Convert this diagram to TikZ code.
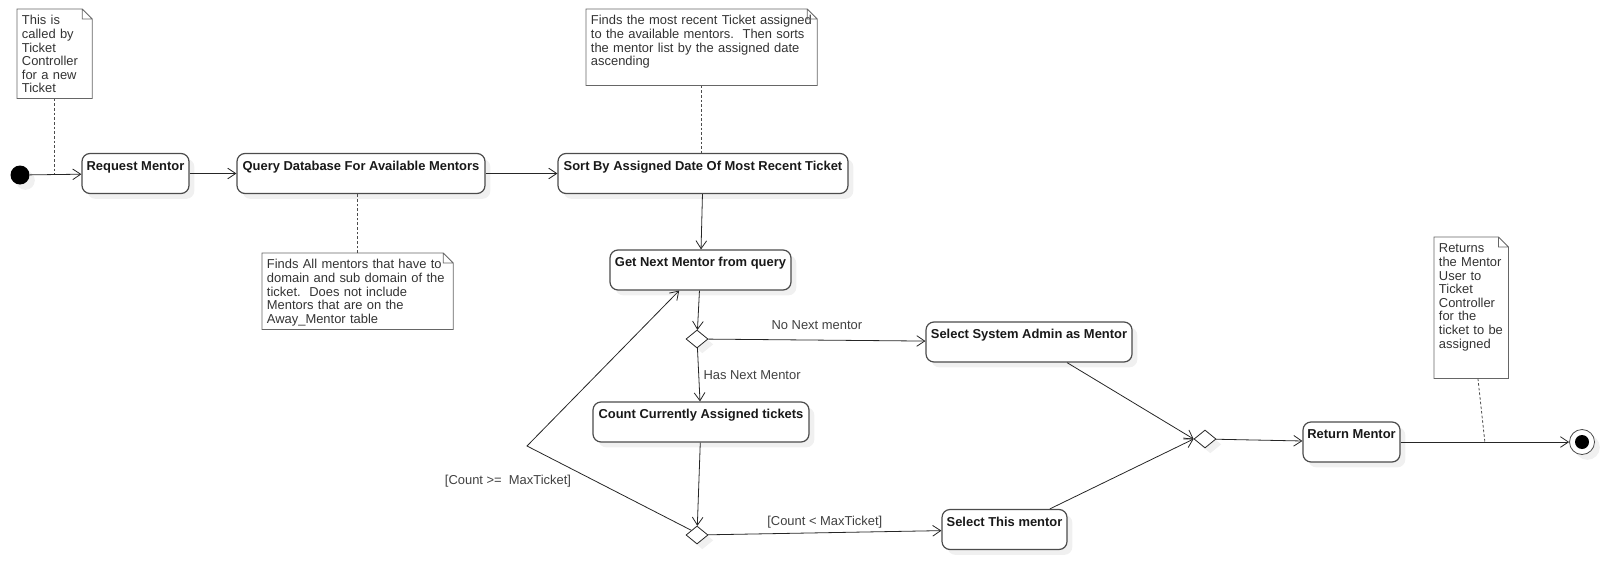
\documentclass[tikz,border=0pt]{standalone}
\usepackage{fontspec}
\setmainfont{Liberation Sans}
\usetikzlibrary{arrows.meta,shapes.geometric,shadows,calc}

\begin{document}
\begin{tikzpicture}[x=0.75pt, y=-0.75pt,
  >={Straight Barb[length=6pt,width=8pt]},
  font=\fontsize{9.7}{10.2}\selectfont,
  shade/.style={drop shadow={shadow xshift=4pt, shadow yshift=-4pt, opacity=1, fill=black!6}},
  action/.style={draw=black!70, line width=0.9pt, rounded corners=6pt, fill=white, shade,
    font=\fontsize{9.7}{10.2}\selectfont\bfseries, text=black!90,
    inner xsep=3pt, inner ysep=3pt, text height=9.5pt, text depth=14.5pt},
  decision/.style={diamond, draw=black!85, line width=0.6pt, fill=white, shade,
    inner sep=0pt, minimum width=16.5pt, minimum height=13.5pt},
  startdot/.style={circle, fill=black, inner sep=0pt, minimum size=14.25pt, shade},
  enddot/.style={circle, draw=black!70, line width=0.6pt, fill=white, inner sep=0pt,
    minimum size=18.75pt, shade,
    path picture={\fill[black] (path picture bounding box.center) circle (5.25pt);}},
  note/.style={anchor=north west, align=left, inner xsep=3.5pt, inner ysep=3.75pt,
    text height=8pt, text=black!80},
  notebd/.style={draw=black!60, line width=0.6pt},
  noteline/.style={draw=black!70, line width=0.6pt, dash pattern=on 2pt off 1.5pt},
  flow/.style={->, draw=black!85, line width=0.6pt},
  guard/.style={text=black!75}]

\useasboundingbox (0,0) rectangle (1605,560);

% notes
\node[note, text width=49pt, text depth=51.25pt] (n1) at (17,9)
  {This is\\called by\\Ticket\\Controller\\for a new\\Ticket};
\node[note, text width=136pt, text depth=41.5pt] (n2) at (262,253)
  {Finds All mentors that have to\\domain and sub domain of the\\ticket.\ \ Does not include\\Mentors that are on the\\Away\_Mentor table};
\node[note, text width=166pt, text depth=41.5pt] (n3) at (586,9)
  {Finds the most recent Ticket assigned\\to the available mentors.\ \ Then sorts\\the mentor list by the assigned date\\ascending};
\node[note, text width=48.5pt, text depth=90.25pt] (n4) at (1434,237)
  {Returns\\the Mentor\\User to\\Ticket\\Controller\\for the\\ticket to be\\assigned};
\foreach \n in {n1,n2,n3,n4}
  \draw[notebd] (\n.north west) -- ([xshift=-7.5pt]\n.north east)
    -- ([yshift=-7.5pt]\n.north east) -- (\n.south east) -- (\n.south west) -- cycle
    ([xshift=-7.5pt]\n.north east) |- ([yshift=-7.5pt]\n.north east);

% actions
\node[startdot] (init) at (20,175) {};
\node[action, minimum width=80.25pt] (req) at (135.5,173.5) {Request Mentor};
\node[action, minimum width=186pt] (query) at (361,173.5) {Query Database For Available Mentors};
\node[action, minimum width=217.5pt] (sort) at (703,173.5) {Sort By Assigned Date Of Most Recent Ticket};
\node[action, minimum width=135.75pt] (getnext) at (700.5,270) {Get Next Mentor from query};
\node[decision] (dec1) at (697,339) {};
\node[action, minimum width=162pt] (count) at (701,422) {Count Currently Assigned tickets};
\node[decision] (dec2) at (697,535) {};
\node[action, minimum width=154.5pt] (sysadmin) at (1029,342) {Select System Admin as Mentor};
\node[action, minimum width=93.75pt] (thismentor) at (1004.5,529.5) {Select This mentor};
\node[decision] (merge) at (1205,439) {};
\node[action, minimum width=72.75pt] (ret) at (1351.5,442) {Return Mentor};
\node[enddot] (final) at (1582,442) {};
\coordinate (loopcorner) at (527,446);

% flows
\draw[flow] (init) -- (req);
\draw[flow] (req) -- (query);
\draw[flow] (query) -- (sort);
\draw[flow] (sort) -- (getnext);
\draw[flow] (getnext) -- (dec1);
\draw[flow] (dec1) -- node[guard, above=4pt] (lblno) {No Next mentor} (sysadmin);
\draw[flow] (dec1) -- node[guard, right] (lblhas) {Has Next Mentor} (count);
\draw[flow] (count) -- (dec2);
\draw[flow] (dec2.north west) -- (loopcorner) -- ([xshift=-16pt]getnext.south);
\node[guard] (lblge) at (508,481) {[Count >=\ \ MaxTicket]};
\draw[flow] (dec2) -- node[guard, above] (lblless) {[Count < MaxTicket]} (thismentor);
\draw[flow] ([xshift=28.5pt]sysadmin.south) -- (merge.west);
\draw[flow] ([xshift=34pt]thismentor.north) -- (merge.west);
\draw[flow] (merge) -- (ret);
\draw[flow] (ret) -- (final);

% note links
\draw[noteline] (n1.south) -- (n1.south |- req.west);
\draw[noteline] (n2.north) -- (n2.north |- query.south);
\draw[noteline] (n3.south) -- (n3.south |- sort.north);
\draw[noteline] ([xshift=5pt]n4.south) -- ($(ret.east)!0.5!(final.west)$);
\end{tikzpicture}
\end{document}
